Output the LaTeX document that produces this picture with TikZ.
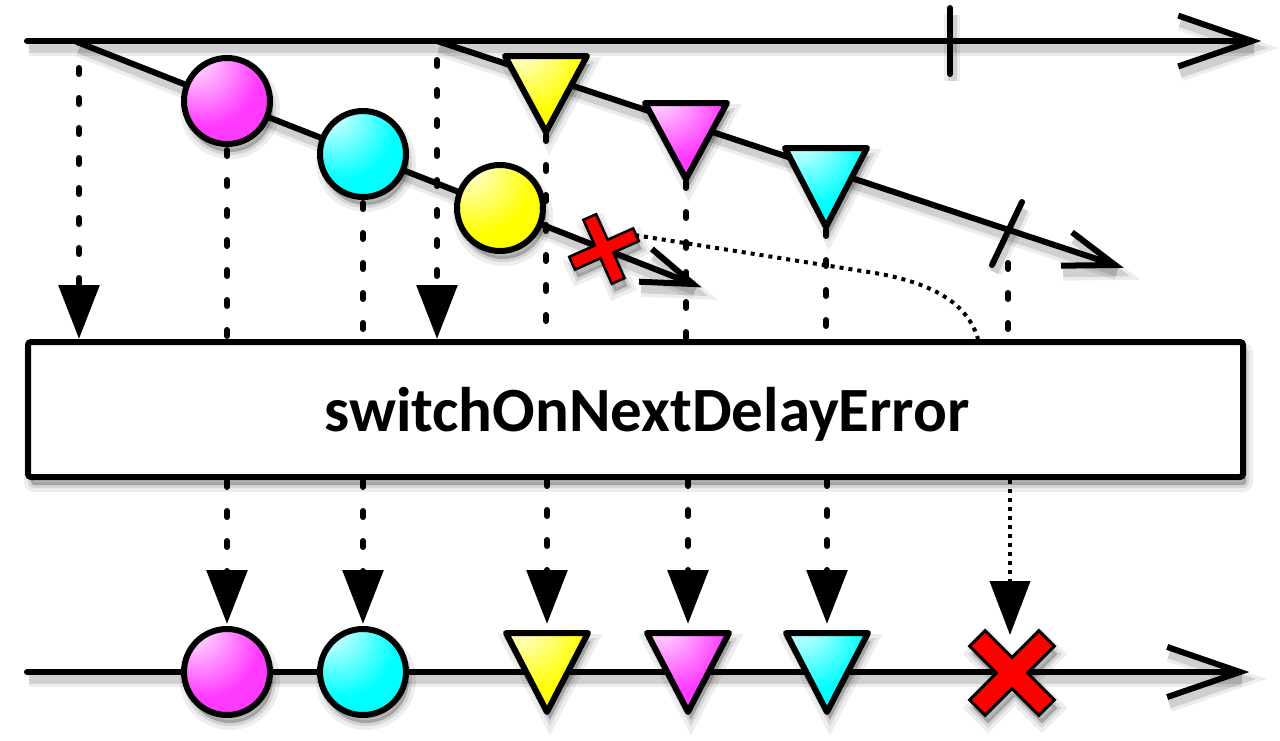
\documentclass[tikz,border=0pt]{standalone}
\usepackage{fontspec}
\setmainfont{Carlito}
\usetikzlibrary{arrows.meta,calc}
\definecolor{pk}{RGB}{255,58,255}
\definecolor{pkl}{RGB}{255,250,255}
\definecolor{pkd}{RGB}{140,30,140}
\definecolor{cy}{RGB}{0,255,255}
\definecolor{cyl}{RGB}{250,255,255}
\definecolor{cyd}{RGB}{0,130,130}
\definecolor{ye}{RGB}{255,255,0}
\definecolor{yel}{RGB}{255,255,250}
\definecolor{yed}{RGB}{130,130,0}
\definecolor{xred}{RGB}{255,0,0}
\pgfdeclareradialshading{pkball}{\pgfpoint{-22bp}{28bp}}{color(0bp)=(pkl); color(32bp)=(pk); color(46bp)=(pk); color(82bp)=(pkd)}
\pgfdeclareradialshading{cyball}{\pgfpoint{-22bp}{28bp}}{color(0bp)=(cyl); color(32bp)=(cy); color(46bp)=(cy); color(82bp)=(cyd)}
\pgfdeclareradialshading{yeball}{\pgfpoint{-22bp}{28bp}}{color(0bp)=(yel); color(32bp)=(ye); color(46bp)=(ye); color(82bp)=(yed)}
\pgfdeclareradialshading{pktri}{\pgfpoint{-19bp}{35bp}}{color(0bp)=(pkl); color(34bp)=(pk); color(62bp)=(pk); color(92bp)=(pkd)}
\pgfdeclareradialshading{cytri}{\pgfpoint{-19bp}{35bp}}{color(0bp)=(cyl); color(34bp)=(cy); color(62bp)=(cy); color(92bp)=(cyd)}
\pgfdeclareradialshading{yetri}{\pgfpoint{-19bp}{35bp}}{color(0bp)=(yel); color(34bp)=(ye); color(62bp)=(ye); color(92bp)=(yed)}
\tikzset{
  lsh/.style={preaction={draw=black, draw opacity=0.07, line width=16pt, transform canvas={shift={(2pt,-7pt)}}},
              preaction={draw=black, draw opacity=0.12, line width=9pt, transform canvas={shift={(2pt,-7pt)}}}},
  ssh/.style={preaction={fill=black, fill opacity=0.10, draw=black, draw opacity=0.07, line width=14pt, transform canvas={shift={(3pt,-8pt)}}},
              preaction={fill=black, fill opacity=0.14, draw=black, draw opacity=0.10, line width=6pt, transform canvas={shift={(3pt,-8pt)}}}},
  axis/.style={line width=6pt, line cap=round, lsh},
  barb/.style={line width=6pt, line cap=butt, lsh},
  dsh/.style={line width=6pt, dash pattern=on 6pt off 24pt, line cap=round},
  dotl/.style={line width=4pt, dash pattern=on 4pt off 5pt},
  arr/.style={-{Triangle[width=40pt,length=54pt]}},
  marble/.style={circle, draw, shade, line width=6pt, minimum size=86pt, inner sep=0pt, ssh},
  tri/.style={draw, line width=6pt, line join=round, ssh},
  xmark/.style={draw, fill=xred, line width=3pt, ssh},
}
\begin{document}
\begin{tikzpicture}[x=1pt,y=-1pt]
\useasboundingbox (0,0) rectangle (1280,740);
% operator box anchors
\path (635.5,409.5) node[minimum width=1215pt, minimum height=135pt, inner sep=0pt, line width=6pt, outer sep=3pt] (op) {};
% named points
\coordinate (a0) at (27,41);   \coordinate (a1) at (1252,41);
\coordinate (s1a) at (77,42);  \coordinate (s1b) at (693,284);
\coordinate (s2a) at (437,41); \coordinate (s2b) at (1115,265);
\coordinate (z0) at (27,672);  \coordinate (z1) at (1240,672);
\coordinate (tk1a) at (950,8); \coordinate (tk1b) at (950,74);
\coordinate (tk2a) at (1022,202); \coordinate (tk2b) at (992,265);
\coordinate (t1) at (546,135); \coordinate (t2) at (686,182); \coordinate (t3) at (826,230);
\coordinate (u1) at (547,630); \coordinate (u2) at (688,630); \coordinate (u3) at (827,630);
\coordinate (d0) at (79,68);   \coordinate (d1) at (437,60);
\coordinate (d7) at (1008,263);
\coordinate (xe) at (1010,635);
% dashed connectors above the box
\draw[dsh, arr] (d0) -- (d0 |- op.north);
\draw[dsh, arr] (d1) -- (d1 |- op.north);
\draw[dsh] (227,150) -- (227,339);
\draw[dsh] (363,203) -- (363,339);
\draw[dsh] (t1) -- (t1 |- op.north);
\draw[dsh] (t2) -- (t2 |- op.north);
\draw[dsh] (t3) -- (t3 |- op.north);
\draw[dsh] (d7) -- (d7 |- op.north);
% dashed connectors below the box
\draw[dsh, arr] (227,481) -- (227,624);
\draw[dsh, arr] (363,481) -- (363,624);
\draw[dsh, arr] (op.south -| u1) -- ($(u1)+(0,-6)$);
\draw[dsh, arr] (op.south -| u2) -- ($(u2)+(0,-6)$);
\draw[dsh, arr] (op.south -| u3) -- ($(u3)+(0,-6)$);
\draw[dotl, arr] (op.south -| xe) -- (xe);
% top axis
\draw[axis] (a0) -- (a1);
\draw[barb] ($(a1)!78pt!19:(a0)$) -- (a1) -- ($(a1)!78pt!-19:(a0)$);
\draw[axis] (tk1a) -- (tk1b);
% inner stream 1
\draw[axis] (s1a) -- (s1b);
\draw[barb] ($(s1b)!54pt!19:(s1a)$) -- (s1b) -- ($(s1b)!54pt!-19:(s1a)$);
% inner stream 2
\draw[axis] (s2a) -- (s2b);
\draw[barb] ($(s2b)!54pt!19:(s2a)$) -- (s2b) -- ($(s2b)!54pt!-19:(s2a)$);
\draw[axis] (tk2a) -- (tk2b);
% bottom axis
\draw[axis] (z0) -- (z1);
\draw[barb] ($(z1)!77pt!19:(z0)$) -- (z1) -- ($(z1)!77pt!-19:(z0)$);
% marbles on stream 1
\node[marble, shading=pkball] (c1) at (227,101) {};
\node[marble, shading=cyball] (c2) at (363,154) {};
\node[marble, shading=yeball] (c3) at (500,208) {};
% error on stream 1
\begin{scope}[shift={(604,249)}, x={(0.9135pt,0.4067pt)}, y={(0.4067pt,-0.9135pt)}]
  \draw[xmark, line width=2.5pt] (7,7) -- (7,35) -- (-7,35) -- (-7,7) -- (-35,7) -- (-35,-7) -- (-7,-7) -- (-7,-35) -- (7,-35) -- (7,-7) -- (35,-7) -- (35,7) -- cycle;
  \coordinate (ex) at (34,0);
\end{scope}
% triangles on stream 2
\shadedraw[tri, shading=yetri] (505,56) -- (587,56) -- (546,132) -- cycle;
\shadedraw[tri, shading=pktri] (645,103) -- (727,103) -- (686,179) -- cycle;
\shadedraw[tri, shading=cytri] (785,148) -- (867,148) -- (826,227) -- cycle;
% dotted error path
\coordinate (cv) at (978,339);
\draw[dotl] (ex) -- (862,271) .. controls (935,281) and (968,305) .. (cv);
% operator box
\node[draw, fill=white, rounded corners=3pt, line width=6pt, minimum width=1215pt, minimum height=135pt, inner sep=0pt, ssh] (opbox) at (op.center) {};
\node[font=\bfseries\fontsize{63}{70}\selectfont, anchor=base, inner sep=0pt] (oplbl) at (647,431) {switchOnNextDelayError};
% output marbles
\node[marble, shading=pkball] (b1) at (227,672) {};
\node[marble, shading=cyball] (b2) at (363,672) {};
\shadedraw[tri, shading=yetri] (506,633) -- (588,633) -- (547,712) -- cycle;
\shadedraw[tri, shading=pktri] (647,633) -- (729,633) -- (688,712) -- cycle;
\shadedraw[tri, shading=cytri] (786,633) -- (868,633) -- (827,712) -- cycle;
% output error
\begin{scope}[shift={(1012,673)}, rotate=45]
  \draw[xmark] (11,11) -- (11,49) -- (-11,49) -- (-11,11) -- (-49,11) -- (-49,-11) -- (-11,-11) -- (-11,-49) -- (11,-49) -- (11,-11) -- (49,-11) -- (49,11) -- cycle;
\end{scope}
\end{tikzpicture}
\end{document}
